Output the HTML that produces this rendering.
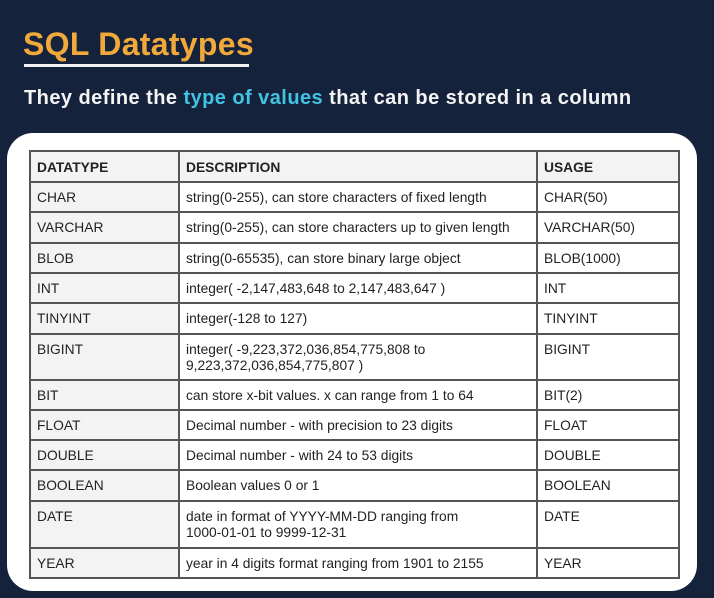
<!DOCTYPE html>
<html><head><meta charset="utf-8"><style>
body{margin:0;width:714px;height:598px;background:#15223b;position:relative;overflow:hidden;font-family:"Liberation Sans",sans-serif}
.title{position:absolute;left:23px;top:26px;font-size:32px;font-weight:bold;color:#f2a93b;letter-spacing:0.3px}
.uline{position:absolute;left:24px;top:64px;width:225px;height:3px;background:#f2f2f2}
.sub{position:absolute;left:24px;top:87px;font-size:20px;font-weight:bold;color:#f4f4f4;letter-spacing:0.45px}
.sub span{color:#41c4e3}
.card{position:absolute;left:7px;top:133px;width:690px;height:458px;background:#fff;border-radius:26px}
table{position:absolute;left:29px;top:150px;border-collapse:collapse;font-size:13.8px;color:#222}
td{border:2px solid #555;padding:7px 6px 0 6px;vertical-align:top;line-height:16px;box-sizing:border-box}
td.c1{background:#f3f3f4;width:149px}
td.c2{width:358px}
td.c3{width:142px}
tr.h td{background:#f3f3f4;font-weight:bold;padding-top:8px}
</style></head><body>
<div class="title">SQL Datatypes</div>
<div class="uline"></div>
<div class="sub">They define the <span>type of values</span> that can be stored in a column</div>
<div class="card"></div>
<table>
<tr class="h" style="height:31px"><td class="c1">DATATYPE</td><td class="c2">DESCRIPTION</td><td class="c3">USAGE</td></tr>
<tr style="height:30px"><td class="c1">CHAR</td><td class="c2">string(0-255), can store characters of fixed length</td><td class="c3">CHAR(50)</td></tr>
<tr style="height:31px"><td class="c1">VARCHAR</td><td class="c2">string(0-255), can store characters up to given length</td><td class="c3">VARCHAR(50)</td></tr>
<tr style="height:30px"><td class="c1">BLOB</td><td class="c2">string(0-65535), can store binary large object</td><td class="c3">BLOB(1000)</td></tr>
<tr style="height:30px"><td class="c1">INT</td><td class="c2">integer( -2,147,483,648 to 2,147,483,647 )</td><td class="c3">INT</td></tr>
<tr style="height:31px"><td class="c1">TINYINT</td><td class="c2">integer(-128 to 127)</td><td class="c3">TINYINT</td></tr>
<tr style="height:46px"><td class="c1">BIGINT</td><td class="c2">integer( -9,223,372,036,854,775,808 to<br>9,223,372,036,854,775,807 )</td><td class="c3">BIGINT</td></tr>
<tr style="height:30px"><td class="c1">BIT</td><td class="c2">can store x-bit values. x can range from 1 to 64</td><td class="c3">BIT(2)</td></tr>
<tr style="height:30px"><td class="c1">FLOAT</td><td class="c2">Decimal number - with precision to 23 digits</td><td class="c3">FLOAT</td></tr>
<tr style="height:30px"><td class="c1">DOUBLE</td><td class="c2">Decimal number - with 24 to 53 digits</td><td class="c3">DOUBLE</td></tr>
<tr style="height:31px"><td class="c1">BOOLEAN</td><td class="c2">Boolean values 0 or 1</td><td class="c3">BOOLEAN</td></tr>
<tr style="height:47px"><td class="c1">DATE</td><td class="c2">date in format of YYYY-MM-DD ranging from<br>1000-01-01 to 9999-12-31</td><td class="c3">DATE</td></tr>
<tr style="height:30px"><td class="c1">YEAR</td><td class="c2">year in 4 digits format ranging from 1901 to 2155</td><td class="c3">YEAR</td></tr>
</table>
</body></html>
